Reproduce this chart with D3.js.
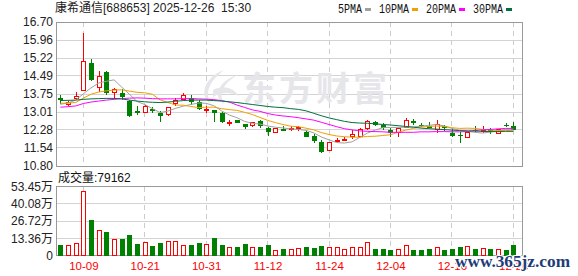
<!DOCTYPE html>
<html>
<head>
<meta charset="utf-8">
<script src="https://cdn.jsdelivr.net/npm/d3@7"></script>
<style>
  body { margin: 0; background: #fff; }
  svg { display: block; font-family: "Liberation Sans", Arial, "Noto Sans CJK SC", sans-serif; }
</style>
</head>
<body>
<div id="chart"></div>
<script>
const dates = ['09-26','09-29','09-30','10-09','10-10','10-13','10-14','10-15','10-16','10-17',
  '10-20','10-21','10-22','10-23','10-24','10-27','10-28','10-29','10-30','10-31',
  '11-03','11-04','11-05','11-06','11-07','11-10','11-11','11-12','11-13','11-14',
  '11-17','11-18','11-19','11-20','11-21','11-24','11-25','11-26','11-27','11-28',
  '12-01','12-02','12-03','12-04','12-05','12-08','12-09','12-10','12-11','12-12',
  '12-15','12-16','12-17','12-18','12-19','12-22','12-23','12-24','12-25','12-26'];

const open = [13.58,13.34,13.56,13.90,15.02,14.02,14.65,13.83,13.78,13.45,
  13.04,13.00,13.15,12.97,12.90,13.37,13.53,13.57,13.44,13.10,
  13.09,12.96,12.56,12.68,12.52,12.44,12.66,12.37,12.18,12.30,
  12.33,12.34,12.20,12.03,11.77,11.43,11.82,11.85,12.00,12.00,
  12.34,12.59,12.50,12.28,12.18,12.39,12.66,12.49,12.42,12.30,
  12.42,12.17,12.07,11.98,12.28,12.24,12.26,12.14,12.50,12.44];
const high = [13.70,13.48,13.82,16.25,15.18,14.70,14.68,14.00,13.94,13.52,
  13.25,13.31,13.21,13.07,13.23,13.60,13.78,13.71,13.50,13.25,
  13.10,13.03,12.68,12.70,12.53,12.60,12.68,12.41,12.34,12.44,
  12.45,12.44,12.25,12.10,11.87,11.80,11.93,12.00,12.28,12.35,
  12.69,12.66,12.57,12.37,12.33,12.78,12.73,12.55,12.62,12.68,
  12.48,12.33,12.18,12.20,12.44,12.44,12.34,12.32,12.58,12.62];
const low = [13.35,13.26,13.52,13.88,14.27,13.83,13.72,13.55,13.52,12.81,
  12.88,12.97,12.97,12.59,12.84,13.27,13.50,13.30,13.10,12.96,
  12.62,12.55,12.45,12.55,12.31,12.40,12.37,12.03,12.16,12.24,
  12.25,12.25,12.00,11.73,11.35,11.42,11.77,11.82,11.89,11.99,
  12.27,12.44,12.28,12.00,12.00,12.39,12.48,12.39,12.35,12.14,
  12.25,12.00,11.73,11.98,12.21,12.14,12.11,12.13,12.40,12.28];
const close = [13.50,13.42,13.66,15.09,14.34,14.48,13.79,13.93,13.63,12.86,
  12.98,13.22,13.04,12.84,13.18,13.50,13.68,13.42,13.14,13.13,
  12.98,12.62,12.58,12.57,12.41,12.57,12.45,12.21,12.32,12.25,
  12.35,12.36,12.00,11.84,11.39,11.75,11.84,11.87,12.10,12.30,
  12.62,12.48,12.34,12.14,12.32,12.66,12.55,12.47,12.35,12.48,
  12.37,12.03,12.05,12.18,12.25,12.26,12.22,12.30,12.48,12.28];

const volume = [80000,74000,93000,498000,273000,196000,183000,124000,124000,157000,
  88000,101000,72000,95000,111000,111000,80000,80000,95000,88000,
  134000,80000,62000,62000,88000,62000,62000,80000,41000,54000,
  46000,54000,62000,57000,72000,62000,62000,49000,62000,62000,
  101000,54000,54000,41000,46000,80000,46000,41000,49000,62000,
  41000,49000,62000,67000,49000,54000,54000,49000,46000,79162];

const ma5 = [13.33,13.38,13.50,13.76,14.00,14.20,14.27,14.33,14.03,13.74,
  13.44,13.32,13.15,12.99,13.05,13.16,13.25,13.32,13.38,13.37,
  13.27,13.06,12.89,12.78,12.63,12.55,12.52,12.44,12.39,12.36,
  12.32,12.30,12.26,12.16,11.99,11.87,11.76,11.74,11.79,11.97,
  12.15,12.27,12.37,12.38,12.38,12.39,12.40,12.43,12.47,12.50,
  12.44,12.34,12.26,12.22,12.18,12.15,12.19,12.24,12.30,12.31];
const ma10 = [13.37,13.38,13.40,13.58,13.74,13.83,13.88,13.91,13.92,13.87,
  13.82,13.80,13.74,13.51,13.40,13.30,13.29,13.24,13.19,13.21,
  13.21,13.15,13.11,13.08,13.00,12.91,12.79,12.67,12.58,12.50,
  12.43,12.41,12.35,12.28,12.17,12.09,12.03,12.00,11.98,11.98,
  12.01,12.02,12.05,12.08,12.18,12.27,12.34,12.40,12.42,12.44,
  12.42,12.37,12.34,12.35,12.34,12.30,12.27,12.25,12.26,12.24];
const ma20 = [13.21,13.23,13.26,13.36,13.42,13.46,13.50,13.53,13.56,13.58,
  13.59,13.58,13.56,13.55,13.55,13.55,13.56,13.56,13.55,13.54,
  13.52,13.48,13.42,13.30,13.20,13.10,13.04,12.95,12.89,12.85,
  12.82,12.78,12.73,12.68,12.59,12.50,12.41,12.33,12.28,12.24,
  12.22,12.21,12.20,12.18,12.18,12.18,12.18,12.20,12.20,12.21,
  12.21,12.20,12.20,12.21,12.26,12.28,12.30,12.32,12.34,12.34];
const ma30 = [13.48,13.49,13.50,13.53,13.55,13.56,13.57,13.57,13.55,13.50,
  13.46,13.43,13.41,13.40,13.42,13.45,13.48,13.50,13.50,13.50,
  13.48,13.46,13.43,13.40,13.36,13.32,13.28,13.24,13.21,13.19,
  13.15,13.12,13.06,12.96,12.86,12.77,12.70,12.63,12.58,12.56,
  12.55,12.53,12.50,12.48,12.45,12.42,12.39,12.35,12.33,12.31,
  12.29,12.27,12.25,12.24,12.23,12.22,12.21,12.21,12.22,12.22];

const priceTicks = ['16.70','15.96','15.22','14.49','13.75','13.01','12.28','11.54','10.80'];
const volTickValues = [534500, 400800, 267200, 133600, 0];
const volTickLabels = ['53.45万','40.08万','26.72万','13.36万','0'];
const dateTicks = ['10-09','10-21','10-31','11-12','11-24','12-04','12-16','12-26'];

const maNames = ['5PMA','10PMA','20PMA','30PMA'];
const maColors = ['#a0a0a0','#f0a000','#ff00ff','#00703c'];

const W = 578, H = 276;
const left = 56, right = 522;
const pTop = 22, pBottom = 166;
const vTop = 186.5, vBottom = 255.5;
const UP = '#ff0000', DOWN = '#008000';

const svg = d3.select('#chart').append('svg')
  .attr('width', W).attr('height', H);

const x = d3.scalePoint().domain(dates).range([60.3, 513.3]);
const y = d3.scaleLinear().domain([10.80, 16.70]).range([pBottom, pTop]);
const yv = d3.scaleLinear().domain([0, 534500]).range([vBottom, vTop]);

// title + legend
svg.append('text')
  .attr('x', 55).attr('y', 12)
  .attr('font-size', 12).attr('fill', '#222')
  .style('white-space', 'pre')
  .text('康希通信[688653] 2025-12-26  15:30');

let lx = 338;
maNames.forEach((name, i) => {
  const w = name.length * 6;
  svg.append('text')
    .attr('x', lx).attr('y', 12.5)
    .attr('font-family', '"Liberation Mono", monospace')
    .attr('font-size', 12)
    .attr('textLength', w).attr('lengthAdjust', 'spacingAndGlyphs')
    .attr('fill', '#111')
    .text(name);
  svg.append('rect')
    .attr('x', lx + w + 3).attr('y', 8).attr('width', 6).attr('height', 3)
    .attr('fill', maColors[i]);
  lx += w + 3 + 6 + 8;
});

// grids
const grid = svg.append('g').attr('shape-rendering', 'crispEdges');
grid.selectAll('.hp').data(priceTicks).join('line')
  .attr('x1', left).attr('x2', right)
  .attr('y1', d => y(+d)).attr('y2', d => y(+d))
  .attr('stroke', '#d4d4d4');
grid.selectAll('.hv').data(volTickValues).join('line')
  .attr('x1', left).attr('x2', right)
  .attr('y1', d => yv(d)).attr('y2', d => yv(d))
  .attr('stroke', '#d4d4d4');
[[pTop, pBottom], [vTop, vBottom]].forEach(([t, b]) => {
  grid.append('g').selectAll('line').data(dateTicks).join('line')
    .attr('x1', d => x(d)).attr('x2', d => x(d))
    .attr('y1', t).attr('y2', b)
    .attr('stroke', '#cccccc').attr('stroke-dasharray', '5,4');
  grid.append('rect')
    .attr('x', left).attr('y', t).attr('width', right - left).attr('height', b - t)
    .attr('fill', 'none').attr('stroke', '#999');
});

// watermark
const wm = svg.append('g').attr('fill', '#e6e6ea');
wm.append('path').attr('d', 'M224 70 C205 77 198 95 211 104 C204 92 210 81 224 70 Z');
wm.append('path').attr('d', 'M237 75 C219 81 212 96 224 104 C218 93 223 84 237 75 Z');
wm.append('path').attr('d', 'M213 90 C222 85 233 87 239 96 C230 92 222 92 213 97 Z');
wm.append('text')
  .attr('x', 242).attr('y', 101)
  .attr('font-family', '"Noto Sans CJK SC", sans-serif')
  .attr('font-size', 34).attr('font-weight', 700)
  .attr('letter-spacing', 3)
  .text('东方财富');

// candles
const candles = svg.append('g').attr('shape-rendering', 'crispEdges');
dates.forEach((d, i) => {
  const cx = Math.round(x(d)) + 0.5;
  const up = close[i] >= open[i];
  const col = up ? UP : DOWN;
  const yo = y(open[i]), yc = y(close[i]);
  const top = Math.min(yo, yc);
  const h = Math.max(1, Math.abs(yo - yc));
  candles.append('line')
    .attr('x1', cx).attr('x2', cx)
    .attr('y1', y(high[i])).attr('y2', y(low[i]))
    .attr('stroke', col);
  if (up) {
    candles.append('rect')
      .attr('x', cx - 2).attr('y', top).attr('width', 4).attr('height', h)
      .attr('fill', '#fff').attr('stroke', col);
  } else {
    candles.append('rect')
      .attr('x', cx - 2.5).attr('y', top).attr('width', 5).attr('height', h)
      .attr('fill', col);
  }
});

// moving averages
const line = d3.line().x((v, i) => x(dates[i])).y(v => y(v));
[ma5, ma10, ma20, ma30].forEach((arr, k) => {
  svg.append('path')
    .attr('d', line(arr))
    .attr('fill', 'none')
    .attr('stroke', maColors[k])
    .attr('stroke-width', 1);
});

// volume
svg.append('text')
  .attr('x', 58).attr('y', 181.5)
  .attr('font-size', 12).attr('fill', '#111')
  .text('成交量:' + volume[volume.length - 1]);

const vol = svg.append('g').attr('shape-rendering', 'crispEdges');
dates.forEach((d, i) => {
  const cx = Math.round(x(d)) + 0.5;
  const up = close[i] >= open[i];
  const yt = yv(volume[i]);
  if (up) {
    vol.append('rect')
      .attr('x', cx - 2).attr('y', yt).attr('width', 4).attr('height', vBottom - yt)
      .attr('fill', '#fff').attr('stroke', UP);
  } else {
    vol.append('rect')
      .attr('x', cx - 2.5).attr('y', yt).attr('width', 5).attr('height', vBottom - yt)
      .attr('fill', DOWN);
  }
});

// axes
const axP = svg.append('g')
  .attr('transform', `translate(${left - 3},0)`)
  .call(d3.axisLeft(y).tickValues(priceTicks.map(Number))
    .tickFormat(v => v.toFixed(2)).tickSize(0).tickPadding(0));
const axV = svg.append('g')
  .attr('transform', `translate(${left - 3},0)`)
  .call(d3.axisLeft(yv).tickValues(volTickValues)
    .tickFormat((v, i) => volTickLabels[i]).tickSize(0).tickPadding(0));
const axX = svg.append('g')
  .attr('transform', `translate(0,${vBottom + 4})`)
  .call(d3.axisBottom(x).tickValues(dateTicks).tickSize(0).tickPadding(0));

[axP, axV].forEach(g => {
  g.select('.domain').remove();
  g.selectAll('text')
    .attr('font-family', '"Liberation Sans", "Noto Sans CJK SC", sans-serif')
    .attr('font-size', 12).attr('fill', '#222');
});
axX.select('.domain').remove();
axX.selectAll('text')
  .attr('font-family', '"Liberation Sans", sans-serif')
  .attr('font-size', 11.5).attr('fill', '#ff0000')
  .attr('dy', '0.9em');

// site watermark
svg.append('text')
  .attr('x', 455).attr('y', 267)
  .attr('font-family', '"Liberation Serif", serif')
  .attr('font-size', 16).attr('font-weight', 700)
  .attr('textLength', 115).attr('lengthAdjust', 'spacingAndGlyphs')
  .attr('fill', '#1e3c78')
  .attr('stroke', '#fff').attr('stroke-width', 2)
  .attr('paint-order', 'stroke')
  .text('www.365jz.com');
</script>
</body>
</html>
